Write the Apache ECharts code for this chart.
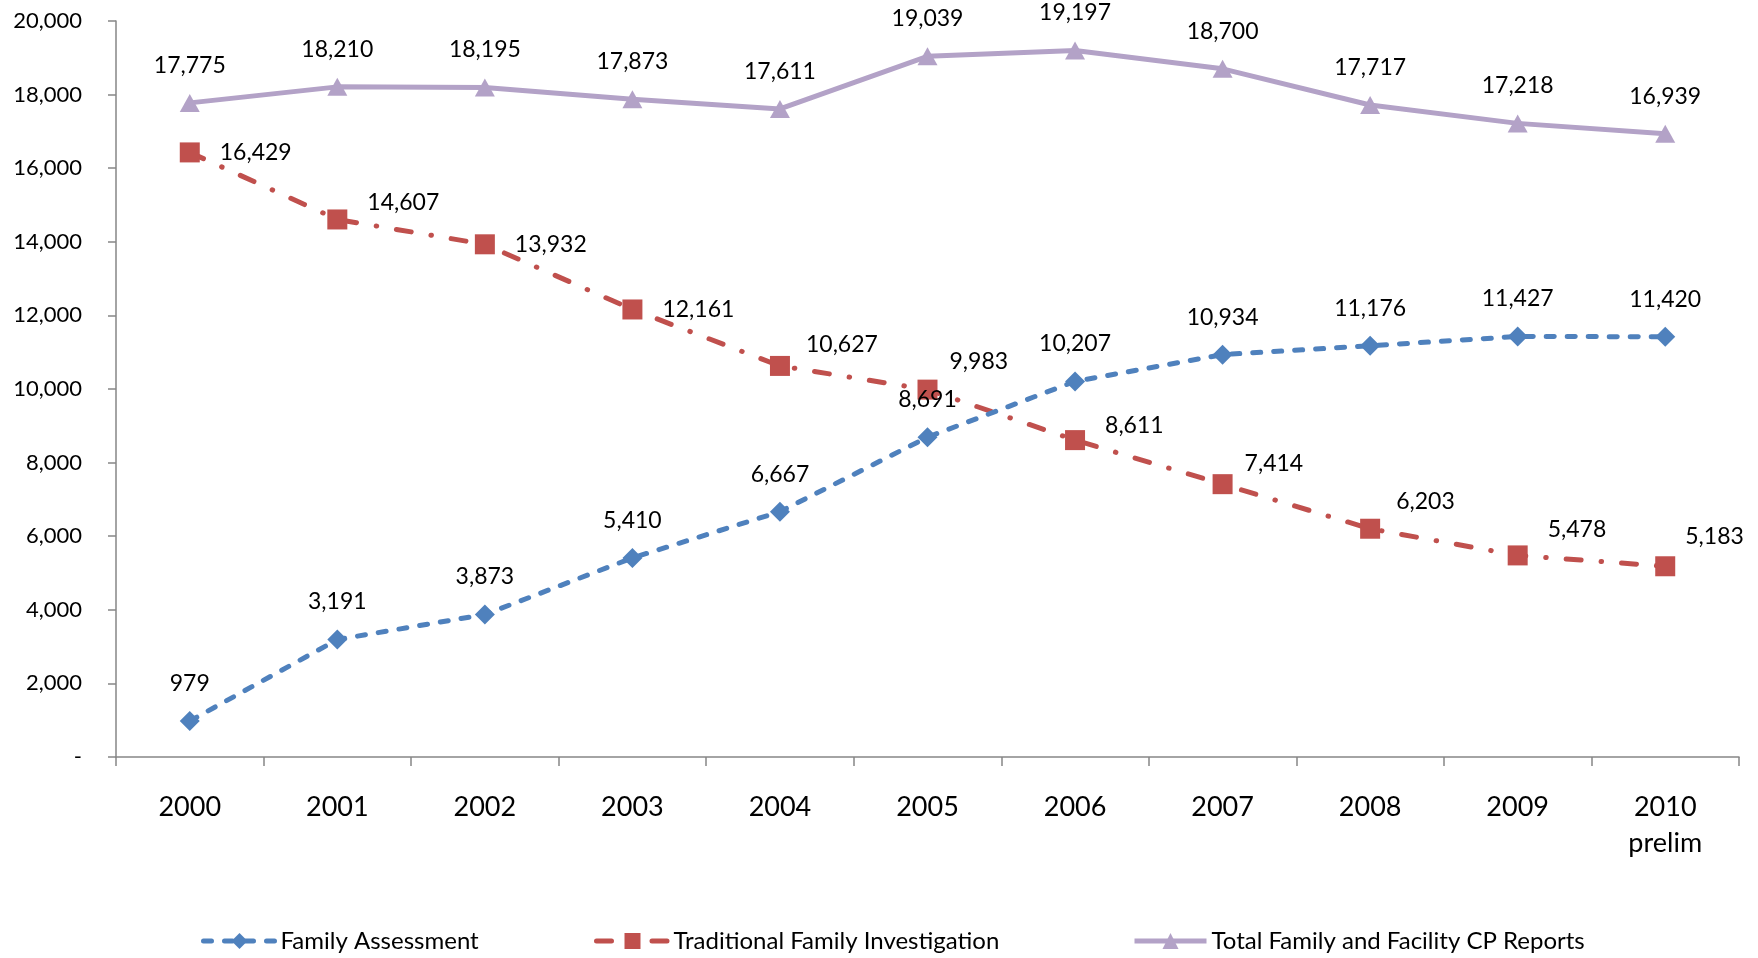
<!DOCTYPE html>
<html>
<head>
<meta charset="utf-8">
<script src="https://cdn.jsdelivr.net/npm/echarts@6/dist/echarts.min.js"></script>
<style>
  html, body { margin: 0; padding: 0; background: #fff; }
  #chart { width: 1758px; height: 958px; }
</style>
</head>
<body>
<div id="chart"></div>
<script>
// data
const years = ['2000', '2001', '2002', '2003', '2004', '2005', '2006', '2007', '2008', '2009', '2010\nprelim']
const familyAssessment = [979, 3191, 3873, 5410, 6667, 8691, 10207, 10934, 11176, 11427, 11420]
const traditionalInvestigation = [16429, 14607, 13932, 12161, 10627, 9983, 8611, 7414, 6203, 5478, 5183]
const totalReports = [17775, 18210, 18195, 17873, 17611, 19039, 19197, 18700, 17717, 17218, 16939]
const yTicks = [0, 2000, 4000, 6000, 8000, 10000, 12000, 14000, 16000, 18000, 20000]

// label nudges for the red series (they sit right of the squares, some a bit higher)
const tfiLabelOffset = [[0, 0], [0, -17], [0, 0], [0, 0], [-4, -21], [-8, -28], [0, -15], [-8, -21], [-4, -27], [0, -26], [-10, -30]]

const FONT = 'Lato'
const fmt = v => v === 0 ? '-' : v.toLocaleString('en-US')

const chart = echarts.init(document.getElementById('chart'))

const legendText = { fontFamily: FONT, fontSize: 24, color: '#000' }
const legendBase = {
  bottom: 0, itemWidth: 72, itemHeight: 20, itemGap: 6,
  textStyle: legendText, selectedMode: false,
  lineStyle: { width: 5 }
}

const option = {
  animation: false,
  textStyle: { fontFamily: FONT },
  grid: { left: 116, right: 19, top: 21, bottom: 201, containLabel: false },
  legend: [
    Object.assign({ left: 196, data: ['Family Assessment'] }, legendBase),
    Object.assign({ left: 589, data: ['Traditional Family Investigation'] }, legendBase),
    Object.assign({ left: 1127, data: ['Total Family and Facility CP Reports'] }, legendBase)
  ],
  xAxis: {
    type: 'category',
    data: years,
    boundaryGap: true,
    axisLine: { lineStyle: { color: '#868686', width: 1.5 } },
    axisTick: { show: true, length: 9, lineStyle: { color: '#868686', width: 1.5 } },
    axisLabel: { fontFamily: FONT, fontSize: 27, color: '#000', margin: 32, lineHeight: 36 },
    splitLine: { show: false }
  },
  yAxis: {
    type: 'value',
    min: yTicks[0],
    max: yTicks[yTicks.length - 1],
    interval: yTicks[1] - yTicks[0],
    axisLine: { show: true, lineStyle: { color: '#868686', width: 1.5 } },
    axisTick: { show: true, length: 8, lineStyle: { color: '#868686', width: 1.5 } },
    axisLabel: { fontFamily: FONT, fontSize: 22, color: '#000', margin: 34, formatter: fmt },
    splitLine: { show: false }
  },
  series: [
    {
      name: 'Family Assessment',
      type: 'line',
      data: familyAssessment,
      symbol: 'diamond',
      symbolSize: 20,
      itemStyle: { color: '#4F81BD' },
      lineStyle: { color: '#4F81BD', width: 5, type: [8, 13], cap: 'round' },
      label: {
        show: true, position: 'top', distance: 16,
        fontFamily: FONT, fontSize: 23, color: '#000',
        formatter: p => fmt(p.value)
      },
      z: 3
    },
    {
      name: 'Traditional Family Investigation',
      type: 'line',
      data: traditionalInvestigation.map((v, i) => ({
        value: v,
        label: { offset: tfiLabelOffset[i] }
      })),
      symbol: 'rect',
      symbolSize: 20,
      itemStyle: { color: '#C0504D' },
      lineStyle: { color: '#C0504D', width: 5, type: [15, 20, 0.5, 20], cap: 'round' },
      label: {
        show: true, position: 'right', distance: 20,
        fontFamily: FONT, fontSize: 23, color: '#000',
        formatter: p => fmt(p.value)
      },
      z: 2
    },
    {
      name: 'Total Family and Facility CP Reports',
      type: 'line',
      data: totalReports,
      symbol: 'triangle',
      symbolSize: [20, 18],
      itemStyle: { color: '#B3A2C7' },
      lineStyle: { color: '#B3A2C7', width: 5 },
      label: {
        show: true, position: 'top', distance: 17,
        fontFamily: FONT, fontSize: 23, color: '#000',
        formatter: p => fmt(p.value)
      },
      z: 1
    }
  ]
}

chart.setOption(option)
</script>
</body>
</html>
